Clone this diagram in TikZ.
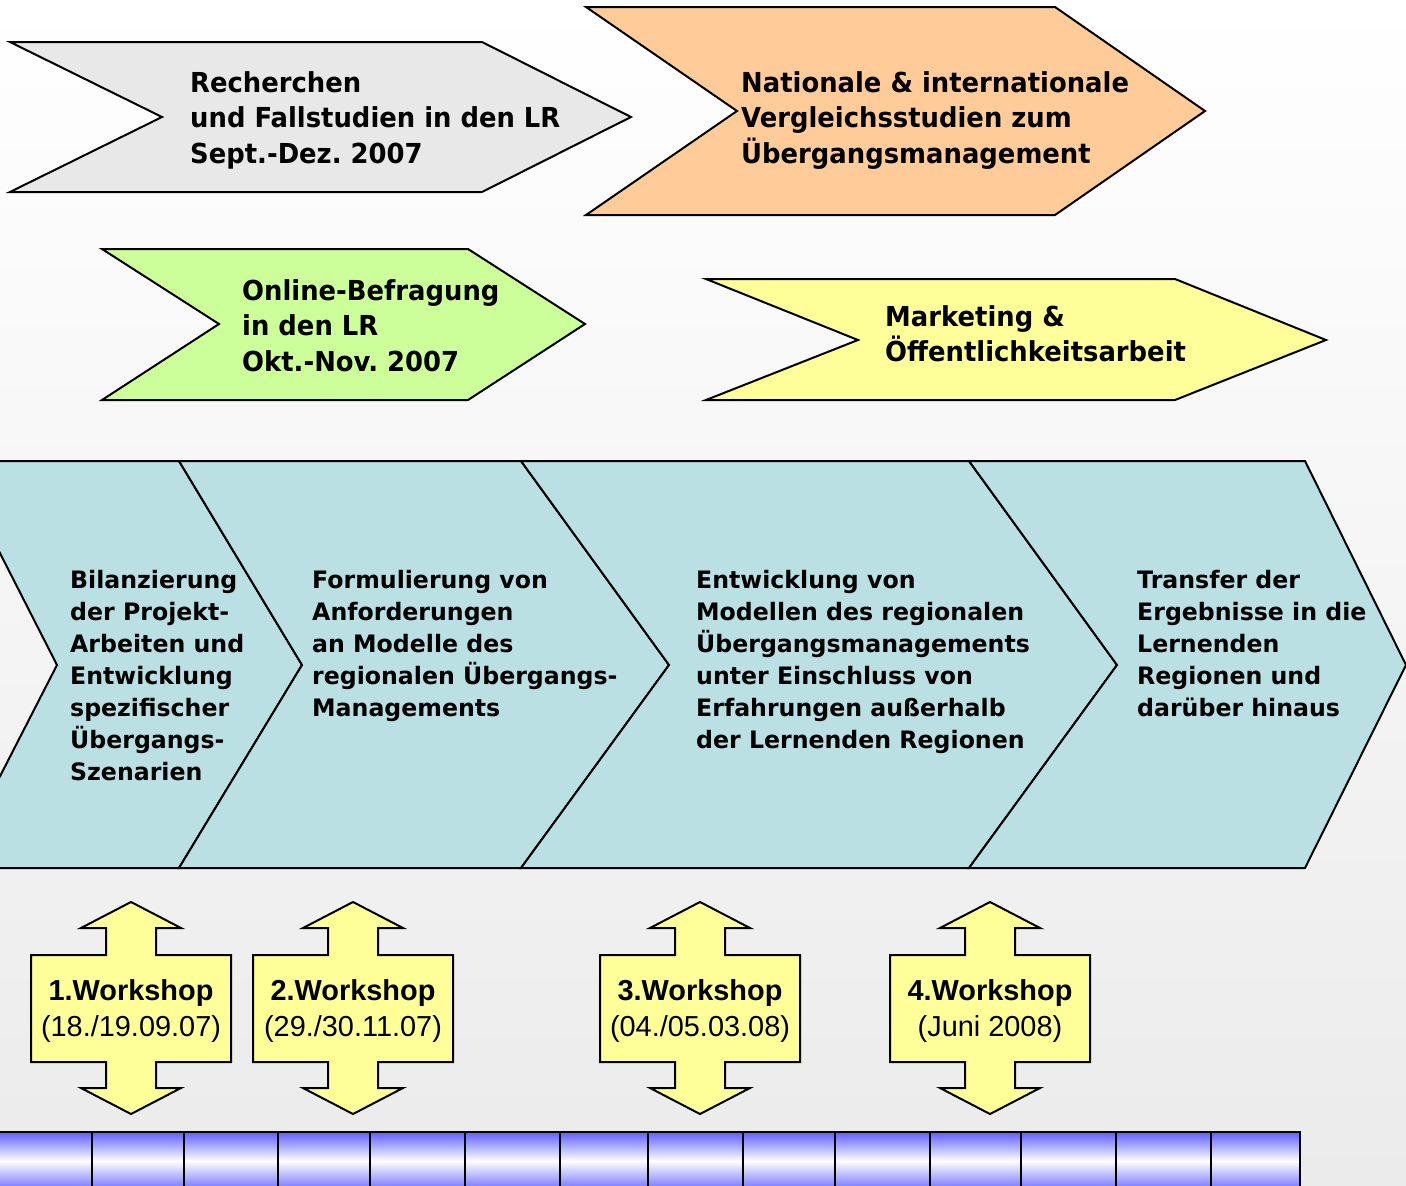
\documentclass[tikz,border=0pt]{standalone}
\usepackage{fontspec}
\newfontfamily\tah[FakeStretch=0.94]{DejaVu Sans}
\newfontfamily\tahb[FakeStretch=0.985]{DejaVu Sans}
\newfontfamily\ari{Liberation Sans}
\definecolor{greyfill}{HTML}{E8E8E8}
\definecolor{orangefill}{HTML}{FFCC99}
\definecolor{greenfill}{HTML}{CCFF99}
\definecolor{yellowfill}{HTML}{FFFF99}
\definecolor{bandfill}{HTML}{BAE0E3}
\definecolor{barblue}{HTML}{5F5FFF}
\definecolor{bgbottom}{HTML}{EBEBEB}
\frenchspacing
\tikzset{
  outl/.style={draw=black, line width=2pt, line join=miter},
  toptext/.style={anchor=base west, align=left, inner sep=0pt,
    font={\tah\bfseries\fontsize{27.5}{35.5}\selectfont}},
  bandtext/.style={anchor=base west, align=left, inner sep=0pt,
    font={\tahb\bfseries\fontsize{24}{32}\selectfont}},
  wstext/.style={anchor=base, align=center, inner sep=0pt,
    font={\ari\fontsize{28.9}{36}\selectfont}},
}
\begin{document}
\begin{tikzpicture}[x=1pt,y=-1pt]
\useasboundingbox (0,0) rectangle (1406,1186);
\clip (0,0) rectangle (1406,1186);
% background
\shade[top color=white, bottom color=bgbottom] (0,0) rectangle (1406,1186);

% top chevrons
\path[outl, fill=greyfill] (10,42) -- (482,42) -- (631,117) -- (482,192) -- (10,192) -- (162,117) -- cycle;
\path[outl, fill=orangefill] (586,7) -- (1055,7) -- (1205,111) -- (1055,215) -- (586,215) -- (737,111) -- cycle;
\path[outl, fill=greenfill] (102,249) -- (468,249) -- (585,324) -- (468,400) -- (102,400) -- (219,324) -- cycle;
\path[outl, fill=yellowfill] (706,279) -- (1175,279) -- (1326,340) -- (1175,400) -- (706,400) -- (858,340) -- cycle;

% (anchor "base" of a multi-line node = baseline of its last line)
\node[toptext] (recherchen) at (190,163) {Recherchen\\und Fallstudien in den LR\\Sept.-Dez. 2007};
\node[toptext] (national) at (741,163) {Nationale \& internationale\\Vergleichsstudien zum\\Übergangsmanagement};
\node[toptext] (online) at (242,371) {Online-Befragung\\in den LR\\Okt.-Nov. 2007};
\node[toptext] (marketing) at (885,361.5) {Marketing \&\\Öffentlichkeitsarbeit};

% process band
\path[outl, fill=bandfill] (-47,461) -- (179,461) -- (302,665) -- (179,868) -- (-47,868) -- (57,665) -- cycle;
\path[outl, fill=bandfill] (179,461) -- (521,461) -- (669,665) -- (521,868) -- (179,868) -- (302,665) -- cycle;
\path[outl, fill=bandfill] (521,461) -- (969,461) -- (1117,665) -- (969,868) -- (521,868) -- (669,665) -- cycle;
\path[outl, fill=bandfill] (969,461) -- (1305,461) -- (1406,665) -- (1305,868) -- (969,868) -- (1117,665) -- cycle;

\node[bandtext] (bilanz) at (70,780) {Bilanzierung\\der Projekt-\\Arbeiten und\\Entwicklung\\spezifischer\\Übergangs-\\Szenarien};
\node[bandtext] (formul) at (312,716) {Formulierung von\\Anforderungen\\an Modelle des\\regionalen Übergangs-\\Managements};
\node[bandtext] (entw) at (696,748) {Entwicklung von\\Modellen des regionalen\\Übergangsmanagements\\unter Einschluss von\\Erfahrungen außerhalb\\der Lernenden Regionen};
\node[bandtext] (transfer) at (1137,716) {Transfer der\\Ergebnisse in die\\Lernenden\\Regionen und\\darüber hinaus};

% workshops
\foreach \cx/\nm/\num/\dt in {131/ws1/1/{(18./19.09.07)}, 353/ws2/2/{(29./30.11.07)}, 700/ws3/3/{(04./05.03.08)}, 990/ws4/4/{(Juni 2008)}}{
  \path[outl, fill=yellowfill] ({\cx-100},955) -- ({\cx-25},955) -- ({\cx-25},928) -- ({\cx-50},928) -- (\cx,902)
    -- ({\cx+50},928) -- ({\cx+25},928) -- ({\cx+25},955) -- ({\cx+100},955) -- ({\cx+100},1062)
    -- ({\cx+25},1062) -- ({\cx+25},1088) -- ({\cx+50},1088) -- (\cx,1114) -- ({\cx-50},1088)
    -- ({\cx-25},1088) -- ({\cx-25},1062) -- ({\cx-100},1062) -- cycle;
  \node[wstext] (\nm) at (\cx,1036.7) {\textbf{\num.Workshop}\\\dt};
}

% timeline bar
\shade[top color=barblue, bottom color=barblue!90, middle color=white] (-5,1132) rectangle (1300,1190);
\draw[line width=2pt] (-5,1132) -- (1300,1132) -- (1300,1190);
\foreach \x in {92,184,278,370,465,560,648,743,835,930,1021,1116,1211}{
  \draw[line width=1.5pt] (\x,1132) -- (\x,1190);
}
\end{tikzpicture}
\end{document}
